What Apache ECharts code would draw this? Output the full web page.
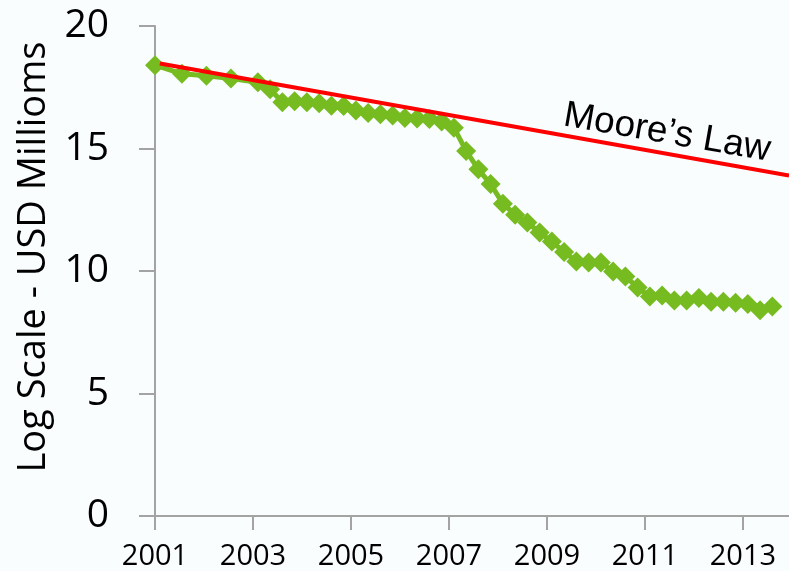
<!DOCTYPE html>
<html>
<head>
<meta charset="utf-8">
<script src="https://cdn.jsdelivr.net/npm/echarts@6/dist/echarts.min.js"></script>
<style>
html,body{margin:0;padding:0;background:#FAFDFE;}
#c{width:789px;height:571px;}
</style>
</head>
<body>
<div id="c"></div>
<script>
// Data (years, values on log scale)
const BASE_YEAR = 2001;
const costYears = [2001.0, 2001.55, 2002.05, 2002.55,
  2003.1, 2003.35, 2003.6, 2003.85, 2004.1, 2004.35, 2004.6, 2004.85,
  2005.1, 2005.35, 2005.6, 2005.85, 2006.1, 2006.35, 2006.6, 2006.85,
  2007.1, 2007.35, 2007.6, 2007.85, 2008.1, 2008.35, 2008.6, 2008.85,
  2009.1, 2009.35, 2009.6, 2009.85, 2010.1, 2010.35, 2010.6, 2010.85,
  2011.1, 2011.35, 2011.6, 2011.85, 2012.1, 2012.35, 2012.6, 2012.85,
  2013.1, 2013.35, 2013.6];
const costValues = [18.4, 18.05, 17.97, 17.86,
  17.7, 17.42, 16.89, 16.93, 16.89, 16.85, 16.75, 16.73,
  16.55, 16.45, 16.4, 16.35, 16.25, 16.22, 16.2, 16.1,
  15.85, 14.9, 14.15, 13.55, 12.75, 12.3, 11.98, 11.57,
  11.2, 10.78, 10.39, 10.35, 10.35, 9.98, 9.78, 9.33,
  8.96, 9.0, 8.8, 8.8, 8.9, 8.75, 8.75, 8.7,
  8.65, 8.4, 8.55];
const mooreYears = [2001.1, 2013.94];
const mooreValues = [18.47, 13.9];
const xTickYears = [2001, 2003, 2005, 2007, 2009, 2011, 2013];
const yTicks = [0, 5, 10, 15, 20];
const yTitle = 'Log Scale - USD Millioms';
const mooreLabel = 'Moore\u2019s Law';

const toPts = (xs, ys) => xs.map((x, i) => [x - BASE_YEAR, ys[i]]);

const chart = echarts.init(document.getElementById('c'), null, {renderer: 'canvas'});
const axisCol = '#A3A3A3';
chart.setOption({
  backgroundColor: '#FAFDFE',
  animation: false,
  grid: {left: 155, right: 0, top: 26, bottom: 55, containLabel: false},
  xAxis: {
    type: 'value',
    min: 0,
    max: mooreYears[1] - BASE_YEAR,
    interval: xTickYears[1] - xTickYears[0],
    axisLine: {show: true, lineStyle: {color: axisCol, width: 2}},
    axisTick: {show: true, length: 14, lineStyle: {color: axisCol, width: 2}},
    splitLine: {show: false},
    axisLabel: {
      showMaxLabel: false,
      margin: 26,
      color: '#000',
      fontFamily: 'Open Sans',
      fontSize: 29,
      formatter: v => String(Math.round(v + BASE_YEAR))
    }
  },
  yAxis: {
    type: 'value',
    min: yTicks[0],
    max: yTicks[yTicks.length - 1],
    interval: yTicks[1] - yTicks[0],
    name: yTitle,
    nameLocation: 'middle',
    nameGap: 102,
    nameTextStyle: {color: '#000', fontFamily: 'Open Sans', fontSize: 38, padding: [0, 0, 0, 28]},
    axisLine: {show: true, lineStyle: {color: axisCol, width: 2}},
    axisTick: {show: true, length: 16, lineStyle: {color: axisCol, width: 2}},
    splitLine: {show: false},
    axisLabel: {margin: 46, color: '#000', fontFamily: 'Open Sans', fontSize: 39}
  },
  series: [
    {
      type: 'line',
      data: toPts(costYears, costValues),
      symbol: 'diamond',
      symbolSize: 20,
      itemStyle: {color: '#76BC21'},
      lineStyle: {color: '#76BC21', width: 5},
      z: 2
    },
    {
      type: 'line',
      data: toPts(mooreYears, mooreValues),
      symbol: 'none',
      lineStyle: {color: '#FF0000', width: 4},
      z: 3
    }
  ],
  graphic: [{
    type: 'text',
    x: 667, y: 133,
    rotation: -0.172,
    z: 10,
    style: {
      text: mooreLabel,
      font: '37px "Liberation Sans", Arial, sans-serif',
      fill: '#000',
      align: 'center',
      verticalAlign: 'middle'
    }
  }]
});
</script>
</body>
</html>
